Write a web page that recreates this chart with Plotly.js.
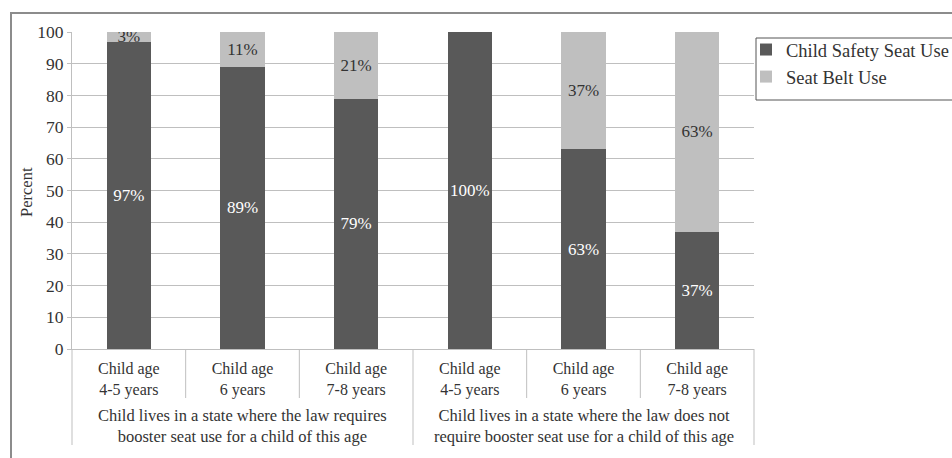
<!DOCTYPE html>
<html><head><meta charset="utf-8">
<script src="https://cdn.plot.ly/plotly-3.0.1.min.js"></script>
<style>html,body{margin:0;padding:0;background:#fff}#chart{width:952px;height:458px}</style>
</head><body><div id="chart"></div>
<script>
var groups = [
  "Child lives in a state where the law requires<br>booster seat use for a child of this age",
  "Child lives in a state where the law does not<br>require booster seat use for a child of this age"
];
var ages = ["Child age<br>4-5 years", "Child age<br>6 years", "Child age<br>7-8 years"];
var seriesNames = ["Child Safety Seat Use", "Seat Belt Use"];
var yTitle = "Percent";
var safetySeat = [97, 89, 79, 100, 63, 37];
var seatBelt = [3, 11, 21, 0, 37, 63];

var xKeys = [], xText = [];
groups.forEach(function(g, gi){ ages.forEach(function(a, ai){ xKeys.push("g" + gi + "a" + ai); xText.push(a); }); });
function labels(v){ return v.map(function(n){ return n > 0 ? n + "%" : ""; }); }

var font = "Liberation Serif, Times New Roman, serif";
var traces = [
  {type:"bar", name:seriesNames[0], x:xKeys, y:safetySeat, width:0.39,
   marker:{color:"#595959"}, text:labels(safetySeat), textposition:"inside", textangle:0,
   insidetextanchor:"middle", constraintext:"none",
   textfont:{family:font, size:17, color:"#ffffff"}, hoverinfo:"none"},
  {type:"bar", name:seriesNames[1], x:xKeys, y:seatBelt, width:0.39,
   marker:{color:"#bfbfbf"}, text:labels(seatBelt), textposition:"inside", textangle:0,
   insidetextanchor:"middle", constraintext:"none",
   textfont:{family:font, size:17, color:"#333333"}, hoverinfo:"none"}
];
var H = 317, W = 682;
var shapes = [
  {type:"rect", xref:"paper", yref:"paper", x0:(11-72)/W, x1:1.32, y0:-0.4, y1:(349-13)/H,
   line:{color:"#8c8c8c", width:2}, fillcolor:"rgba(0,0,0,0)", layer:"below"},
  {type:"rect", xref:"paper", yref:"paper", x0:(756-72)/W, x1:1.4, y0:(349-100)/H, y1:(349-38)/H,
   line:{color:"#555555", width:1}, fillcolor:"rgba(0,0,0,0)"}
];
[1,2,4,5].forEach(function(k){
  shapes.push({type:"line", xref:"paper", yref:"paper", x0:k/6, x1:k/6, y0:0, y1:-49/H,
    line:{color:"#bfbfbf", width:1}});
});
[0,3,6].forEach(function(k){
  shapes.push({type:"line", xref:"paper", yref:"paper", x0:k/6, x1:k/6, y0:0, y1:-96/H,
    line:{color:"#bfbfbf", width:1}});
});
var annotations = groups.map(function(g, gi){
  return {text:g, xref:"paper", yref:"paper", x:0.25 + 0.5*gi, y:-(426-349)/H,
    xanchor:"center", yanchor:"middle", showarrow:false, align:"center",
    font:{family:font, size:16.5, color:"#333333"}};
});
annotations.push({text:yTitle, xref:"paper", yref:"paper", x:(26-72)/W, y:(349-192)/H,
  xanchor:"center", yanchor:"middle", showarrow:false, textangle:-90,
  font:{family:font, size:16.5, color:"#333333"}});
var layout = {
  width:952, height:458, margin:{l:72, r:198, t:32, b:109, autoexpand:false},
  paper_bgcolor:"#ffffff", plot_bgcolor:"#ffffff",
  barmode:"stack",
  font:{family:font, size:16, color:"#333333"},
  xaxis:{type:"category", tickvals:xKeys, ticktext:xText, showgrid:false, showline:true,
    linecolor:"#bfbfbf", ticks:"outside", ticklen:5, tickcolor:"rgba(0,0,0,0)",
    tickfont:{family:font, size:16, color:"#333333"}, automargin:false},
  yaxis:{range:[0,100], dtick:10, showgrid:true, gridcolor:"#bfbfbf", zeroline:false,
    showline:true, linecolor:"#bfbfbf", ticks:"outside", ticklen:4, tickcolor:"#bfbfbf",
    tickfont:{family:font, size:17.5, color:"#333333"}, automargin:false},
  legend:{xref:"container", yref:"container", x:746/952, y:1-31/458, xanchor:"left", yanchor:"top",
    borderwidth:0, bgcolor:"rgba(0,0,0,0)", font:{family:font, size:18.5, color:"#333333"},
    traceorder:"normal"},
  shapes:shapes,
  annotations:annotations,
  showlegend:true
};
Plotly.newPlot("chart", traces, layout, {displayModeBar:false, staticPlot:true});
</script></body></html>
